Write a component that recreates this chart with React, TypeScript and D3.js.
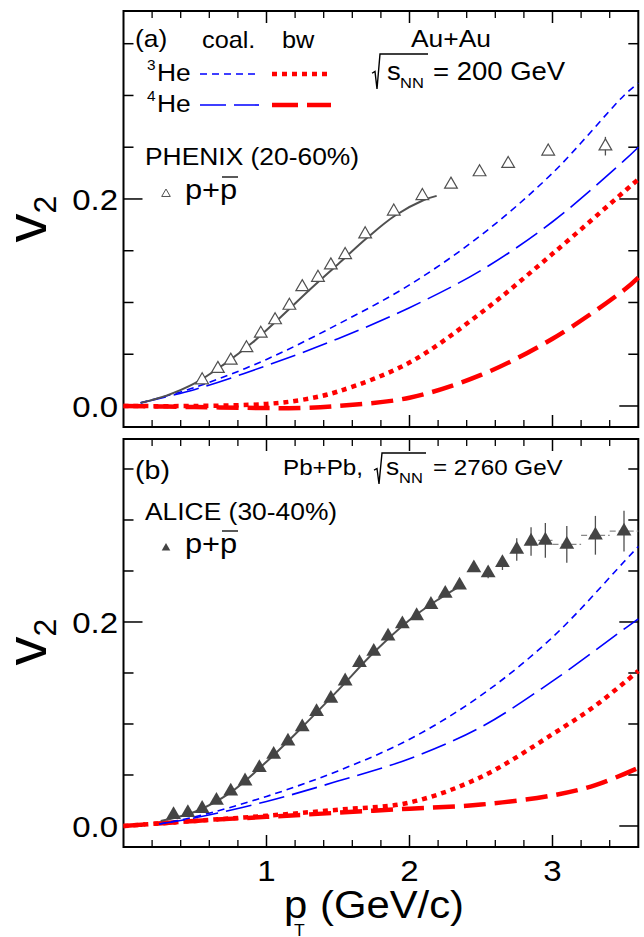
import * as d3 from 'd3'

// ---- data ----
// panel (a): PHENIX p+pbar v2, 20-60%
const phenixPt = [0.55, 0.66, 0.75, 0.86, 0.96, 1.06, 1.16, 1.25, 1.36, 1.45, 1.55, 1.69, 1.89, 2.09, 2.29, 2.49, 2.69, 2.97, 3.37]
const phenixV2 = [0.025, 0.036, 0.044, 0.056, 0.070, 0.083, 0.097, 0.115, 0.124, 0.136, 0.146, 0.166, 0.188, 0.203, 0.214, 0.226, 0.234, 0.246, 0.251]
const phenixErr = [0, 0, 0, 0, 0, 0, 0, 0, 0, 0, 0, 0, 0, 0, 0, 0, 0, 0.003, 0.009]
const phenixFitPt = [0.12, 0.3, 0.5, 0.7, 0.9, 1.1, 1.3, 1.5, 1.7, 1.9, 2.1, 2.19]
const phenixFitV2 = [0.003, 0.010, 0.022, 0.040, 0.061, 0.086, 0.112, 0.137, 0.162, 0.184, 0.199, 0.203]

const coalPtA = [0.12, 0.5, 1.0, 1.5, 2.0, 2.5, 3.0, 3.5, 3.6]
const he3CoalA = [0.003, 0.018, 0.045, 0.079, 0.117, 0.165, 0.225, 0.300, 0.312]
const he4CoalA = [0.003, 0.016, 0.039, 0.065, 0.095, 0.131, 0.178, 0.237, 0.250]
const bwPtA = [0, 0.5, 1.0, 1.25, 1.5, 2.0, 2.5, 3.0, 3.5, 3.6]
const he3BwA = [0, 0, 0.002, 0.006, 0.014, 0.042, 0.090, 0.147, 0.207, 0.219]
const he4BwA = [0, -0.001, -0.002, -0.002, 0, 0.008, 0.030, 0.065, 0.112, 0.124]

// panel (b): ALICE p+pbar v2, 30-40%
const alicePt = [0.35, 0.45, 0.55, 0.65, 0.75, 0.85, 0.95, 1.05, 1.15, 1.25, 1.35, 1.45, 1.55, 1.65, 1.75, 1.85, 1.95, 2.05, 2.15, 2.25, 2.35, 2.45, 2.55, 2.65, 2.75, 2.85, 2.95, 3.1, 3.3, 3.5]
const aliceV2 = [0.011, 0.013, 0.017, 0.025, 0.034, 0.044, 0.057, 0.070, 0.083, 0.097, 0.112, 0.125, 0.142, 0.160, 0.171, 0.186, 0.198, 0.206, 0.217, 0.228, 0.236, 0.253, 0.248, 0.258, 0.271, 0.279, 0.280, 0.276, 0.285, 0.289]
const aliceErr = [0.001, 0.001, 0.001, 0.001, 0.001, 0.001, 0.001, 0.001, 0.001, 0.001, 0.001, 0.002, 0.002, 0.002, 0.002, 0.002, 0.002, 0.002, 0.003, 0.003, 0.003, 0.004, 0.005, 0.007, 0.011, 0.014, 0.017, 0.018, 0.019, 0.020]
const aliceXErr = [0, 0, 0, 0, 0, 0, 0, 0, 0, 0, 0, 0, 0, 0, 0, 0, 0, 0, 0, 0, 0, 0, 0, 0, 0, 0, 0.05, 0.1, 0.1, 0.1]
const aliceFitPt = [0.26, 0.5, 0.75, 1.0, 1.25, 1.5, 1.75, 2.0, 2.2, 2.35]
const aliceFitV2 = [0.005, 0.014, 0.033, 0.063, 0.097, 0.133, 0.170, 0.202, 0.222, 0.235]

const coalPtB = [0.25, 0.5, 1.0, 1.5, 2.0, 2.5, 3.0, 3.5, 3.6]
const he3CoalB = [0.002, 0.009, 0.029, 0.054, 0.085, 0.128, 0.185, 0.259, 0.274]
const he4CoalB = [0.002, 0.008, 0.024, 0.044, 0.066, 0.097, 0.142, 0.193, 0.203]
const bwPtB = [0, 0.5, 1.0, 1.5, 2.0, 2.5, 3.0, 3.3, 3.6]
const he3BwB = [0, 0.005, 0.010, 0.016, 0.023, 0.048, 0.090, 0.118, 0.152]
const he4BwB = [0, 0.005, 0.009, 0.013, 0.017, 0.021, 0.030, 0.040, 0.057]

const xMajor = [1, 2, 3]
const xLabels = ['1', '2', '3']
const yMajor = [0, 0.2]
const yLabels = ['0.0', '0.2']

const FONT = 'Liberation Sans, Arial, Helvetica, sans-serif'
const BLUE = '#0000ff', RED = '#ff0000', GRAY = '#505050'

const x = d3.scaleLinear().domain([0, 3.6]).range([123.5, 638.3])
const L = 123.5, R = 638.3

const styles = {
  he3Coal: { stroke: BLUE, width: 1.6, dash: '7,5' },
  he4Coal: { stroke: BLUE, width: 1.6, dash: '26,8' },
  he3Bw: { stroke: RED, width: 4.5, dash: '5,5' },
  he4Bw: { stroke: RED, width: 4.5, dash: '22,9' },
}

function T({ x, y, size, anchor = 'start', children }: any) {
  return (
    <text transform={`translate(${x},${y}) scale(1.1,1)`} fontSize={size} textAnchor={anchor} fontFamily={FONT} fill="#000">
      {children}
    </text>
  )
}

function Curve({ xs, ys, y, st }: any) {
  const line = d3.line<number>().x((d, i) => x(xs[i])).y((d) => y(d)).curve(d3.curveCatmullRom.alpha(0.5))
  return <path d={line(ys) || ''} fill="none" stroke={st.stroke} strokeWidth={st.width} strokeDasharray={st.dash} />
}

function Frame({ y, top, bot }: any) {
  const xMinor = d3.range(0.2, 3.59, 0.2).filter((v) => Math.abs(v - Math.round(v)) > 0.01)
  const yTicks = d3.range(0, 0.381, 0.05)
  return (
    <g stroke="#000">
      <rect x={L} y={top} width={R - L} height={bot - top} fill="none" strokeWidth={2} />
      {xMinor.map((v) => (
        <g key={'xm' + v} strokeWidth={1.3}>
          <line x1={x(v)} x2={x(v)} y1={bot} y2={bot - 7} />
          <line x1={x(v)} x2={x(v)} y1={top} y2={top + 7} />
        </g>
      ))}
      {xMajor.map((v) => (
        <g key={'xM' + v} strokeWidth={1.5}>
          <line x1={x(v)} x2={x(v)} y1={bot} y2={bot - 12} />
          <line x1={x(v)} x2={x(v)} y1={top} y2={top + 12} />
        </g>
      ))}
      {yTicks.map((v) => {
        const len = yMajor.some((m) => Math.abs(m - v) < 1e-6) ? 19 : 10
        return (
          <g key={'y' + v} strokeWidth={1.5}>
            <line x1={L} x2={L + len} y1={y(v)} y2={y(v)} />
            <line x1={R} x2={R - len} y1={y(v)} y2={y(v)} />
          </g>
        )
      })}
    </g>
  )
}

function YLabels({ y }: any) {
  return (
    <g>
      {yMajor.map((v, i) => (
        <T key={v} x={118} y={y(v) + 11} size={30} anchor="end">{yLabels[i]}</T>
      ))}
    </g>
  )
}

function V2Label({ cy }: any) {
  return (
    <text transform={`translate(46,${cy}) rotate(-90)`} textAnchor="middle" fontFamily={FONT} fontSize={58}>
      v<tspan fontSize={32} dy={10}>2</tspan>
    </text>
  )
}

function Radical({ x0, yTop, yBot, xEnd }: any) {
  const h = yBot - yTop
  return (
    <path d={`M${x0},${yTop + h * 0.55} L${x0 + 3},${yTop + h * 0.5} L${x0 + 5},${yBot} L${x0 + 8},${yTop} L${xEnd},${yTop}`} fill="none" stroke="#000" strokeWidth={1.4} />
  )
}

function PPbar({ x0, y0 }: any) {
  return (
    <g>
      <T x={x0} y={y0} size={28}>p+p</T>
      <line x1={x0 + 37} x2={x0 + 53} y1={y0 - 22} y2={y0 - 22} stroke="#000" strokeWidth={1.3} />
    </g>
  )
}

export default function App() {
  const yA = d3.scaleLinear().domain([-0.0203, 0.3816]).range([427, 11])
  const yB = d3.scaleLinear().domain([-0.0206, 0.3794]).range([847, 439])
  const tri = d3.symbol(d3.symbolTriangle, 70)()
  const triF = d3.symbol(d3.symbolTriangle, 95)()
  const triLeg = d3.symbol(d3.symbolTriangle, 32)()

  return (
    <svg width={644} height={937} style={{ position: 'absolute', left: 0, top: 0, background: '#fff' }}>
      <rect width={644} height={937} fill="#fff" />

      {/* ---------- panel (a) ---------- */}
      <Frame y={yA} top={11} bot={427} />
      <Curve xs={bwPtA} ys={he4BwA} y={yA} st={styles.he4Bw} />
      <Curve xs={bwPtA} ys={he3BwA} y={yA} st={styles.he3Bw} />
      <Curve xs={coalPtA} ys={he4CoalA} y={yA} st={styles.he4Coal} />
      <Curve xs={coalPtA} ys={he3CoalA} y={yA} st={styles.he3Coal} />
      <Curve xs={phenixFitPt} ys={phenixFitV2} y={yA} st={{ stroke: GRAY, width: 2, dash: null }} />
      {phenixPt.map((p, i) => (
        <g key={'pa' + i}>
          {phenixErr[i] > 0 && (
            <line x1={x(p)} x2={x(p)} y1={yA(phenixV2[i] - phenixErr[i])} y2={yA(phenixV2[i] + phenixErr[i])} stroke={GRAY} strokeWidth={1.3} />
          )}
          <path d={tri || ''} transform={`translate(${x(p)},${yA(phenixV2[i])})`} fill="#fff" stroke={GRAY} strokeWidth={1.2} />
        </g>
      ))}
      <YLabels y={yA} />
      <V2Label cy={219} />

      <T x={135} y={47} size={24}>(a)</T>
      <T x={202} y={48} size={23}>coal.</T>
      <T x={282} y={48} size={23}>bw</T>
      <T x={147} y={70} size={14}>3</T>
      <T x={157} y={81} size={24}>He</T>
      <T x={147} y={101} size={14}>4</T>
      <T x={157} y={112} size={24}>He</T>
      <line x1={200} x2={259} y1={74} y2={74} stroke={BLUE} strokeWidth={1.6} strokeDasharray="7,5" />
      <line x1={272} x2={331} y1={74} y2={74} stroke={RED} strokeWidth={4.5} strokeDasharray="5,5" />
      <line x1={200} x2={259} y1={105} y2={105} stroke={BLUE} strokeWidth={1.6} strokeDasharray="26,8" />
      <line x1={272} x2={331} y1={105} y2={105} stroke={RED} strokeWidth={4.5} strokeDasharray="26,9" />
      <T x={451} y={47} size={24} anchor="middle">Au+Au</T>
      <Radical x0={372} yTop={54} yBot={89} xEnd={428} />
      <T x={387} y={80} size={25}>s</T>
      <T x={400} y={88} size={15}>NN</T>
      <T x={433} y={80} size={25}>= 200 GeV</T>
      <T x={145} y={165} size={24}>PHENIX (20-60%)</T>
      <path d={triLeg || ''} transform="translate(166,194)" fill="#fff" stroke={GRAY} strokeWidth={1} />
      <PPbar x0={185} y0={199} />

      {/* ---------- panel (b) ---------- */}
      <Frame y={yB} top={439} bot={847} />
      <Curve xs={bwPtB} ys={he4BwB} y={yB} st={styles.he4Bw} />
      <Curve xs={bwPtB} ys={he3BwB} y={yB} st={styles.he3Bw} />
      <Curve xs={coalPtB} ys={he4CoalB} y={yB} st={styles.he4Coal} />
      <Curve xs={coalPtB} ys={he3CoalB} y={yB} st={styles.he3Coal} />
      <Curve xs={aliceFitPt} ys={aliceFitV2} y={yB} st={{ stroke: GRAY, width: 2, dash: null }} />
      {alicePt.map((p, i) => (
        <g key={'pb' + i} stroke={GRAY} strokeWidth={1.3}>
          <line x1={x(p)} x2={x(p)} y1={yB(aliceV2[i] - aliceErr[i])} y2={yB(aliceV2[i] + aliceErr[i])} />
          {aliceXErr[i] > 0 && (
            <line x1={x(p - aliceXErr[i])} x2={x(p + aliceXErr[i])} y1={yB(aliceV2[i])} y2={yB(aliceV2[i])} stroke="#888" strokeDasharray="6,3" />
          )}
          <path d={triF || ''} transform={`translate(${x(p)},${yB(aliceV2[i])})`} fill="#444" stroke="none" />
        </g>
      ))}
      <YLabels y={yB} />
      <V2Label cy={642} />

      <T x={135} y={479} size={26}>(b)</T>
      <T x={283} y={475} size={22}>Pb+Pb,</T>
      <Radical x0={374} yTop={453} yBot={484} xEnd={426} />
      <T x={386} y={475} size={24}>s</T>
      <T x={399} y={483} size={15}>NN</T>
      <T x={433} y={475} size={22}>= 2760 GeV</T>
      <T x={145} y={520} size={24}>ALICE (30-40%)</T>
      <path d={triLeg || ''} transform="translate(166,548)" fill="#444" />
      <PPbar x0={185} y0={553} />

      {/* x axis */}
      {xMajor.map((v, i) => (
        <T key={'xl' + v} x={x(v)} y={881} size={30} anchor="middle">{xLabels[i]}</T>
      ))}
      <T x={284} y={918} size={38}>p</T>
      <T x={294} y={936} size={16}>T</T>
      <T x={320} y={918} size={38}>(GeV/c)</T>
    </svg>
  )
}
